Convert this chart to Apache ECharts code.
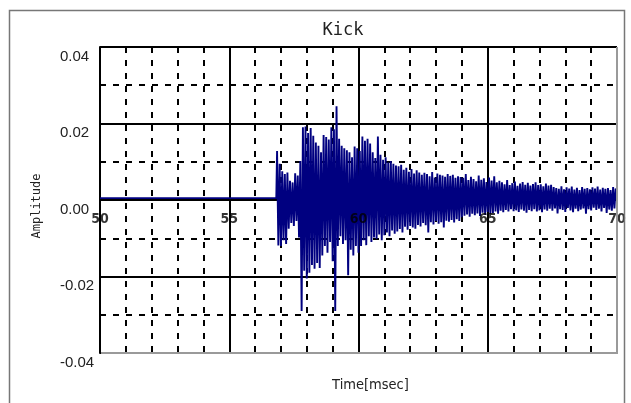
<!DOCTYPE html>
<html>
<head>
<meta charset="utf-8">
<script src="https://cdn.jsdelivr.net/npm/echarts@6/dist/echarts.min.js"></script>
<style>
  html, body { margin: 0; padding: 0; background: #ffffff; }
  #chart { width: 631px; height: 403px; }
</style>
</head>
<body>
<div id="chart"></div>
<script>
// Axis ticks (msec and amplitude)
const xTicks = [50, 55, 60, 65, 70];
const yTicks = [-0.04, -0.02, 0, 0.02, 0.04];
const yTickLabels = ['-0.04', '-0.02', '0.00', '0.02', '0.04'];

// Silence before the hit
const quietLevel = 0.0005;
const quietStart = 50;
const quietEnd = 56.82;

// Kick drum waveform, one sample every 0.05 msec starting at the onset
const onsetTime = 56.85;
const samplePeriod = 0.05;
const amplitude = [
  0.0128, -0.0119, 0.0095,
  -0.012, 0.0075, -0.0105, 0.0068, -0.0115, 0.0072,
  -0.0075, 0.005, -0.006, 0.0046,
  -0.0068, 0.007, -0.0055, 0.0064,
  -0.0098, 0.0102,
  -0.029,
  0.019, -0.0185, 0.0192, -0.0205, 0.0175, -0.019, 0.0188, -0.017, 0.0168,
  -0.018, 0.015, -0.0165, 0.0142, -0.0178, 0.0125,
  -0.0145, 0.017, -0.012, 0.0165, -0.0138, 0.0158, -0.011,
  0.019, -0.016, 0.0185,
  -0.029, 0.0245,
  -0.012, 0.016, -0.0095, 0.0142, -0.0115, 0.0135,
  -0.0105, 0.013, -0.0197, 0.0125, -0.013, 0.0112,
  -0.0145, 0.014, -0.012, 0.0135, -0.0138, 0.0128,
  -0.012, 0.0166, -0.0105, 0.0155, -0.0118, 0.016, -0.0095, 0.0148,
  -0.011, 0.0125, -0.0098, 0.011, -0.0102, 0.0166, -0.009, 0.0118, -0.0105, 0.0105,
  -0.0092, 0.0112, -0.0085, 0.0098, -0.0095, 0.0102, -0.008, 0.0095, -0.0088, 0.009,
  -0.0082, 0.0088, -0.0076, 0.0092, -0.0085, 0.0079, -0.007, 0.0084, -0.0078, 0.0074,
  -0.0068, 0.0081, -0.0072, 0.0069, -0.0075, 0.0078, -0.0065, 0.0072, -0.0069, 0.0066,
  -0.006, 0.0071, -0.0066, 0.0068, -0.0085, 0.0062, -0.0058, 0.0073, -0.0064, 0.0059,
  -0.0055, 0.0069, -0.0062, 0.0066, -0.0058, 0.0064, -0.0072, 0.0061, -0.0054, 0.0068,
  -0.0057, 0.0063, -0.0052, 0.0066, -0.0059, 0.0058, -0.005, 0.0062, -0.0055, 0.006,
  -0.0045, 0.0058, -0.0041, 0.0068, -0.0038, 0.0052, -0.0044, 0.0061, -0.0036, 0.0055,
  -0.004, 0.0049, -0.0035, 0.0064, -0.0042, 0.0053, -0.0033, 0.0057, -0.0039, 0.0047,
  -0.0031, 0.0059, -0.0037, 0.0051, -0.0034, 0.0062, -0.003, 0.0046, -0.0036, 0.005,
  -0.0028, 0.0046, -0.0032, 0.0041, -0.0026, 0.0052, -0.003, 0.0039, -0.0024, 0.0044,
  -0.0029, 0.0048, -0.0027, 0.0037, -0.0031, 0.0043, -0.0025, 0.0047, -0.0028, 0.004,
  -0.0033, 0.0045, -0.0026, 0.0038, -0.0029, 0.0042, -0.0024, 0.0046, -0.003, 0.0039,
  -0.0027, 0.0041, -0.0032, 0.0036, -0.0025, 0.0043, -0.0028, 0.0038, -0.0023, 0.004,
  -0.0028, 0.0034, -0.0022, 0.0031, -0.0035, 0.0029, -0.0024, 0.0036, -0.0026, 0.0028,
  -0.0031, 0.0033, -0.0021, 0.003, -0.0027, 0.0035, -0.0032, 0.0027, -0.0023, 0.0032,
  -0.0029, 0.0026, -0.0025, 0.0034, -0.0022, 0.0029, -0.0036, 0.0031, -0.0024, 0.0028,
  -0.0027, 0.0033, -0.002, 0.003, -0.0026, 0.0035, -0.0023, 0.0027, -0.003, 0.0032,
  -0.0021, 0.0029, -0.0034, 0.0031, -0.0025, 0.0026, -0.0028, 0.0034, -0.0022, 0.003,
  0.0012
];

const waveData = [[quietStart, quietLevel], [quietEnd, quietLevel]].concat(
  amplitude.map((v, i) => [onsetTime + i * samplePeriod, v])
);

const xMin = xTicks[0], xMax = xTicks[xTicks.length - 1];
const xStep = xTicks[1] - xTicks[0];
const yMin = yTicks[0], yMax = yTicks[yTicks.length - 1];
const yStep = yTicks[1] - yTicks[0];

function yLabel(v) {
  let best = 0;
  yTicks.forEach((t, i) => { if (Math.abs(t - v) < Math.abs(yTicks[best] - v)) best = i; });
  return yTickLabels[best];
}

const chart = echarts.init(document.getElementById('chart'), null, { renderer: 'canvas' });

const gridLine = { color: '#000000', width: 2 };
const dashLine = { color: '#000000', width: 2, type: [6, 7] };

chart.setOption({
  animation: false,
  backgroundColor: '#ffffff',
  title: {
    text: 'Kick',
    left: 338,
    top: 17,
    textAlign: 'center',
    textStyle: { fontFamily: 'DejaVu Sans Mono', fontSize: 17, fontWeight: 'normal', color: '#222222' }
  },
  grid: { left: 100, top: 47, width: 517, height: 306, show: false },
  xAxis: {
    type: 'value', min: xMin, max: xMax, interval: xStep,
    axisLine: { show: false, onZero: false },
    axisTick: { show: false },
    axisLabel: { show: false },
    splitLine: { show: true, lineStyle: gridLine },
    minorTick: { show: false, splitNumber: 5 },
    minorSplitLine: { show: true, lineStyle: dashLine },
    name: 'Time[msec]',
    nameLocation: 'middle',
    nameGap: 25,
    nameTextStyle: {
      fontFamily: "'DejaVu Sans Condensed', sans-serif", fontSize: 14.5, color: '#222222',
      padding: [0, 0, 0, 24]
    },
    z: 0
  },
  yAxis: {
    type: 'value', min: yMin, max: yMax, interval: yStep,
    axisLine: { show: true, onZero: false, lineStyle: { color: '#000000', width: 2 } },
    axisTick: { show: false },
    axisLabel: {
      formatter: yLabel,
      align: 'left', margin: 40, verticalAlign: 'top', padding: [2, 0, 0, 0],
      showMinLabel: true, showMaxLabel: true,
      fontFamily: "'Liberation Sans', Arial, sans-serif", fontSize: 15, color: '#222222'
    },
    splitLine: { show: true, lineStyle: gridLine },
    minorTick: { show: false, splitNumber: 2 },
    minorSplitLine: { show: true, lineStyle: dashLine },
    name: 'Amplitude',
    nameLocation: 'middle',
    nameGap: 57,
    nameTextStyle: { fontFamily: 'DejaVu Sans Mono', fontSize: 12, color: '#222222', padding: [0, 12, 0, 0] },
    z: 0
  },
  series: [
    {
      type: 'line',
      data: waveData,
      showSymbol: false,
      symbol: 'none',
      sampling: null,
      lineStyle: { color: '#000080', width: 1.9 },
      z: 2
    },
    {
      // time tick labels sitting on the zero line, drawn over the waveform
      type: 'scatter',
      data: xTicks.map(t => [t, 0]),
      symbolSize: 0,
      clip: false,
      silent: true,
      label: {
        show: true,
        position: 'bottom',
        distance: 12,
        formatter: p => String(p.value[0]),
        fontFamily: "'DejaVu Sans Condensed', sans-serif",
        fontWeight: 'bold', fontSize: 14, color: '#000000'
      },
      z: 5
    }
  ]
});

// Outer frame and the lighter right/bottom edges of the plot box
const pTL = chart.convertToPixel({ xAxisIndex: 0, yAxisIndex: 0 }, [xMin, yMax]);
const pBR = chart.convertToPixel({ xAxisIndex: 0, yAxisIndex: 0 }, [xMax, yMin]);
chart.setOption({
  graphic: [
    { type: 'rect', shape: { x: 9.5, y: 10.5, width: 615, height: 420 },
      style: { fill: null, stroke: '#777777', lineWidth: 1.5 }, z: 10, silent: true },
    { type: 'line', shape: { x1: pBR[0], y1: pTL[1], x2: pBR[0], y2: pBR[1] + 1 },
      style: { stroke: '#9a9a9a', lineWidth: 2 }, z: 10, silent: true },
    { type: 'line', shape: { x1: pTL[0] + 1, y1: pBR[1], x2: pBR[0] + 1, y2: pBR[1] },
      style: { stroke: '#9a9a9a', lineWidth: 2 }, z: 10, silent: true }
  ]
});
</script>
</body>
</html>
